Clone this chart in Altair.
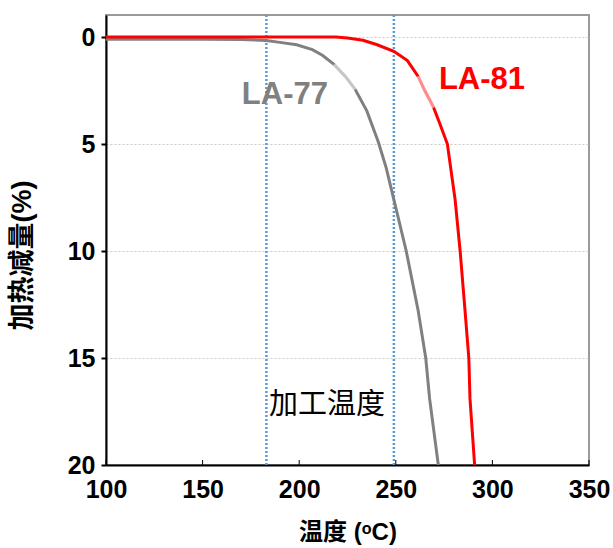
import altair as alt
import pandas as pd

# ---- data ----
series = ["LA-77", "LA-81"]
series_colors = ["#808080", "#ff0000"]

la77_x = [100, 150, 170, 183, 190, 198.7, 206.8, 212, 218, 224, 229, 235, 241, 245, 249, 255.4, 261.5, 265.5, 267.5, 272]
la77_y = [0.1, 0.1, 0.12, 0.16, 0.25, 0.36, 0.59, 0.85, 1.28, 1.85, 2.45, 3.45, 4.92, 6.1, 7.6, 10, 12.75, 15, 16.9, 20]

la81_x = [100, 150, 200, 219, 225, 233, 240, 249, 256, 261.5, 265, 269.6, 273, 276.7, 280.7, 283.3, 285.8, 287.8, 288.4, 290.8]
la81_y = [0, 0, 0, 0, 0.05, 0.15, 0.35, 0.67, 1.1, 1.83, 2.5, 3.3, 4.1, 5.0, 7.6, 10, 12.75, 15, 16.9, 20]

# lighter (faded) stretch of each curve, by x range
fade_lo = [217.5, 261]
fade_hi = [230, 271]

x_ticks = [100, 150, 200, 250, 300, 350]
y_ticks = [0, 5, 10, 15, 20]

proc_temps = [183, 249]          # 加工温度 lines
proc_label = ["加工温度"]
proc_label_x = [214.4]
proc_label_y = [17.2]

label_text = ["LA-77", "LA-81"]
label_x = [192.6, 294.6]
label_y = [2.7, 2.0]

# ---- build tables ----
rows = []
for s, xs_, ys_, lo, hi in [("LA-77", la77_x, la77_y, fade_lo[0], fade_hi[0]),
                            ("LA-81", la81_x, la81_y, fade_lo[1], fade_hi[1])]:
    for xv, yv in zip(xs_, ys_):
        rows.append({"series": s, "x": xv, "y": yv, "fade": bool(lo <= xv <= hi)})
df = pd.DataFrame(rows)

labels_df = pd.DataFrame({"series": series, "text": label_text, "x": label_x, "y": label_y})
proc_df = pd.DataFrame({"x": proc_temps})
proc_lbl_df = pd.DataFrame({"text": proc_label, "x": proc_label_x, "y": proc_label_y})
xtick_df = pd.DataFrame({"x": x_ticks})

W, H = 483, 450
LATIN = "Liberation Sans, Arial, Noto Sans CJK SC, sans-serif"

xscale = alt.Scale(domain=[100, 350], nice=False, zero=False)
yscale = alt.Scale(domain=[-1.03, 20], reverse=True, nice=False, zero=False)

x_axis = alt.Axis(values=x_ticks, title="温度 (ᵒC)", grid=False, ticks=False,
                  domainColor="black", domainWidth=2,
                  labelFont=LATIN, labelFontSize=25, labelFontWeight="bold", labelColor="black",
                  labelPadding=12, labelFlush=False,
                  titleFont=LATIN, titleFontSize=24, titleFontWeight="bold", titleColor="black",
                  titlePadding=18)
y_axis = alt.Axis(values=y_ticks, title="加热减量(%)", grid=True, gridColor="#c8c8c8",
                  gridDash=[2, 2], gridWidth=1,
                  ticks=True, tickSize=5, tickColor="black", tickWidth=2,
                  domainColor="black", domainWidth=2,
                  labelFont=LATIN, labelFontSize=25, labelFontWeight="bold", labelColor="black",
                  labelPadding=6,
                  titleFont=LATIN, titleFontSize=27, titleFontWeight="bold", titleColor="black",
                  titleAngle=-90, titleAlign="center", titleBaseline="middle",
                  titleX=-84, titleY=240)

color_scale = alt.Scale(domain=series, range=series_colors)

lines = alt.Chart(df).mark_line(strokeWidth=3, clip=True).encode(
    x=alt.X("x:Q", scale=xscale, axis=x_axis),
    y=alt.Y("y:Q", scale=yscale, axis=y_axis),
    color=alt.Color("series:N", scale=color_scale, legend=None),
    order="x:Q",
)

# white translucent overlay lightens the faded stretch of each curve
fades = alt.Chart(df).transform_filter("datum.fade").mark_line(
    strokeWidth=3.5, clip=True, color="white", opacity=0.55
).encode(
    x=alt.X("x:Q", scale=xscale),
    y=alt.Y("y:Q", scale=yscale),
    detail="series:N",
    order="x:Q",
)

proc_lines = alt.Chart(proc_df).mark_rule(color="#5b9bd5", strokeWidth=2.5, strokeDash=[2, 2]).encode(
    x=alt.X("x:Q", scale=xscale)
)

xticks_in = alt.Chart(xtick_df).mark_rule(color="black", strokeWidth=1).encode(
    x=alt.X("x:Q", scale=xscale), y=alt.value(H - 5), y2=alt.value(H)
)

proc_text = alt.Chart(proc_lbl_df).mark_text(
    font="Noto Sans CJK SC", fontSize=29, color="black", align="center", baseline="middle"
).encode(x=alt.X("x:Q", scale=xscale), y=alt.Y("y:Q", scale=yscale), text="text:N")

series_text = alt.Chart(labels_df).mark_text(
    font=LATIN, fontSize=31, fontWeight="bold", align="center", baseline="middle"
).encode(
    x=alt.X("x:Q", scale=xscale), y=alt.Y("y:Q", scale=yscale), text="text:N",
    color=alt.Color("series:N", scale=color_scale, legend=None),
)

chart = alt.layer(proc_lines, lines, fades, xticks_in, proc_text, series_text).properties(
    width=W, height=H,
    autosize=alt.AutoSizeParams(type="none"),
    padding={"left": 106, "top": 15, "right": 24, "bottom": 83},
    background="white",
).configure_view(stroke="#9a9a9a", strokeWidth=2)

chart.save("out.html", embed_options={"renderer": "svg", "actions": False})
